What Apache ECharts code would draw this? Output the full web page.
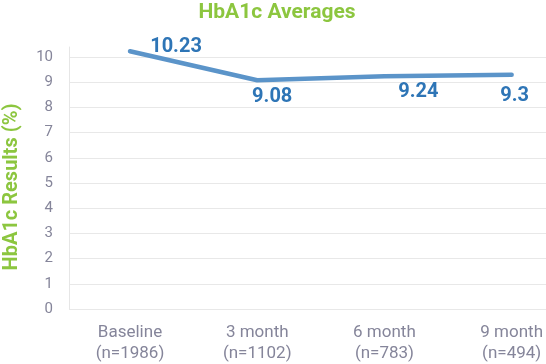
<!DOCTYPE html>
<html><head><meta charset="utf-8">
<script src="https://cdn.jsdelivr.net/npm/echarts@6/dist/echarts.min.js"></script>
<style>html,body{margin:0;padding:0;background:#fff}#c{width:546px;height:364px}</style>
</head><body><div id="c"></div>
<script>
const categories = ['Baseline\n(n=1986)', '3 month\n(n=1102)', '6 month\n(n=783)', '9 month\n(n=494)'];
const averages = [10.23, 9.08, 9.24, 9.3];
const yTicks = [0, 1, 2, 3, 4, 5, 6, 7, 8, 9, 10];
const labelOffsets = [[46, -4], [15, 17], [34, 16], [3, 21]];

const yMin = yTicks[0], yMax = 10.4;
const chart = echarts.init(document.getElementById('c'), null, {renderer: 'canvas'});
const font = 'Roboto, "Noto Sans", sans-serif';
chart.setOption({
  animation: false,
  title: {
    text: 'HbA1c Averages', left: 272, top: -3, textAlign: 'center',
    textStyle: {color: '#8cc63f', fontSize: 21, fontWeight: 'bold', fontFamily: font}
  },
  graphic: [{
    type: 'text', x: 12, y: 187, rotation: Math.PI / 2,
    style: {text: 'HbA1c Results (%)', fill: '#8cc63f', font: 'bold 20px ' + font, align: 'center', verticalAlign: 'middle'}
  }],
  grid: [
    {left: 69, right: 0, top: 47, bottom: 55, containLabel: false},
    {left: 130, right: 33, top: 47, bottom: 55, containLabel: false}
  ],
  xAxis: [
    {gridIndex: 0, type: 'value', show: false, min: 0, max: 1},
    {gridIndex: 1, type: 'category', data: categories, boundaryGap: false,
     axisLine: {show: false}, axisTick: {show: false}, splitLine: {show: false},
     axisLabel: {color: '#85859a', fontSize: 17, fontFamily: font, lineHeight: 21, margin: 13, interval: 0}}
  ],
  yAxis: [
    {gridIndex: 0, type: 'value', min: yMin, max: yMax, interval: 1,
     axisLine: {show: true, lineStyle: {color: '#e6e6e6', width: 1}},
     axisTick: {show: false},
     splitLine: {show: true, showMaxLine: false, lineStyle: {color: '#e8e8e8', width: 1}},
     axisLabel: {color: '#85859a', fontSize: 15, fontFamily: font, margin: 16, showMaxLabel: false,
       formatter: v => (yTicks.indexOf(v) >= 0 ? String(v) : '')}},
    {gridIndex: 1, type: 'value', min: yMin, max: yMax, show: false, splitLine: {show: false}}
  ],
  series: [{
    type: 'line', xAxisIndex: 1, yAxisIndex: 1,
    data: averages.map((v, i) => ({value: v, label: {offset: labelOffsets[i]}})),
    symbol: 'circle', symbolSize: 1, showSymbol: true,
    itemStyle: {color: 'rgba(0,0,0,0)'},
    lineStyle: {color: '#5b94c9', width: 4.5, cap: 'round', join: 'round'},
    label: {show: true, position: 'inside', color: '#2e75b6', fontSize: 20, fontWeight: 'bold', fontFamily: font},
    emphasis: {disabled: true}
  }]
});
</script></body></html>
